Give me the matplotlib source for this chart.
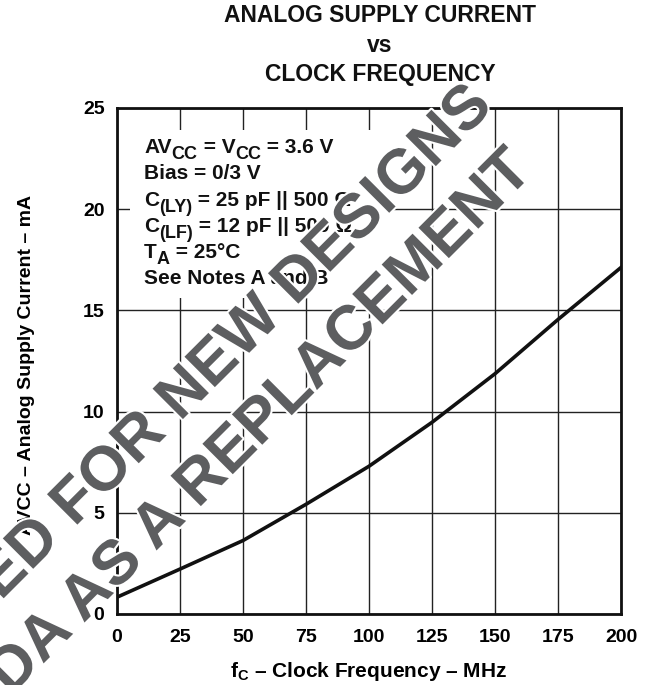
import matplotlib
matplotlib.use("Agg")
import matplotlib.pyplot as plt
import matplotlib.patheffects as pe
from matplotlib.patches import Rectangle
from matplotlib.transforms import offset_copy

plt.rcParams['font.family'] = ['Liberation Sans', 'DejaVu Sans']
plt.rcParams['font.weight'] = 'bold'
plt.rcParams['mathtext.fontset'] = 'custom'
plt.rcParams['mathtext.rm'] = 'Liberation Sans:bold'
plt.rcParams['mathtext.it'] = 'Liberation Sans:bold'
plt.rcParams['mathtext.bf'] = 'Liberation Sans:bold'

# Data
freq_mhz = [0, 25, 50, 75, 100, 125, 150, 175, 200]
current_ma = [0.83, 2.22, 3.63, 5.42, 7.30, 9.47, 11.87, 14.55, 17.12]
x_ticks = [0, 25, 50, 75, 100, 125, 150, 175, 200]
y_ticks = [0, 5, 10, 15, 20, 25]
title_lines = ["ANALOG SUPPLY CURRENT", "vs", "CLOCK FREQUENCY"]
# each condition line: list of (text, is_subscript)
conditions = [
    [("AV", 0), ("CC", 1), (" = V", 0), ("CC", 1), (" = 3.6 V", 0)],
    [("Bias = 0/3 V", 0)],
    [("C", 0), ("(LY)", 1), (" = 25 pF || 500 Ω", 0)],
    [("C", 0), ("(LF)", 1), (" = 12 pF || 500 Ω", 0)],
    [("T", 0), ("A", 1), (" = 25°C", 0)],
    [("See Notes A and B", 0)],
]
watermark = ["NOT RECOMMENDED FOR NEW DESIGNS", "DA AS A REPLACEMENT"]

W, H = 651, 685
DPI = 100
fig = plt.figure(figsize=(W / DPI, H / DPI), dpi=DPI)
ax = fig.add_axes([117 / W, 1 - 614 / H, (621 - 117) / W, (614 - 108) / H])

ax.set_xlim(0, 200)
ax.set_ylim(0, 25)
ax.set_xticks(x_ticks)
ax.set_yticks(y_ticks)
ax.tick_params(axis='x', length=0, pad=11, labelsize=14)
ax.tick_params(axis='y', length=0, pad=9, labelsize=14)
for lab in ax.get_xticklabels() + ax.get_yticklabels():
    lab.set_fontweight('bold')
ax.grid(True, color='#222222', linewidth=1.0, zorder=0)
ax.set_axisbelow(True)
for s in ax.spines.values():
    s.set_linewidth(2.0)
    s.set_color('#111111')

# white box behind conditions text
ax.add_patch(Rectangle((5.2, 15.6), 104.5, 8.3, facecolor='white', edgecolor='none', zorder=1))

ax.plot(freq_mhz, current_ma, color='#111111', linewidth=2.6, zorder=3)

ax.set_xlabel(r"f$_{\mathregular{C}}$ – Clock Frequency – MHz", fontsize=15, fontweight='bold',
              va='baseline')
ax.xaxis.set_label_coords(0.5, -(677 - 614) / (614 - 108))
ax.set_ylabel("AVCC – Analog Supply Current – mA", fontsize=14, fontweight='bold', va='center')
ax.yaxis.set_label_coords(-(117 - 27) / (621 - 117), (614 - 365) / (614 - 108))

# conditions block with large subscripts
renderer = fig.canvas.get_renderer()
fs = 15
sub_fs = 13
x_start = (144 - 117) / (621 - 117)
baselines_px = [153, 179, 206, 232, 258, 284]
for line, by in zip(conditions, baselines_px):
    yax = (614 - by) / (614 - 108)
    dx_pt = 0.0
    for txt, sub in line:
        tr = offset_copy(ax.transAxes, fig=fig, x=dx_pt, y=(-4.0 if sub else 0.0), units='points')
        t = ax.text(x_start, yax, txt, transform=tr, fontsize=(sub_fs if sub else fs),
                    fontweight='bold', va='baseline', ha='left', zorder=4, color='#111111')
        bb = t.get_window_extent(renderer)
        dx_pt += bb.width * 72.0 / DPI

cx = 380 / W
fig.text(cx, 1 - 15 / H, title_lines[0], ha='center', va='center', fontsize=16.5, fontweight='bold', color='#111111')
fig.text(cx, 1 - 46 / H, title_lines[1], ha='center', va='center', fontsize=16.5, fontweight='bold', color='#111111')
fig.text(cx, 1 - 75 / H, title_lines[2], ha='center', va='center', fontsize=16.5, fontweight='bold', color='#111111')

stroke = [pe.withStroke(linewidth=3, foreground='white')]
fig.text(494 / W, 1 - 108 / H, watermark[0], rotation=45, rotation_mode='anchor',
         ha='right', va='baseline', fontsize=45, fontweight='bold', color='#5d5e60',
         path_effects=stroke, zorder=10)
fig.text(534 / W, 1 - 173 / H, watermark[1], rotation=45, rotation_mode='anchor',
         ha='right', va='baseline', fontsize=45, fontweight='bold', color='#5d5e60',
         path_effects=stroke, zorder=10)

fig.savefig("out.png", dpi=DPI)
